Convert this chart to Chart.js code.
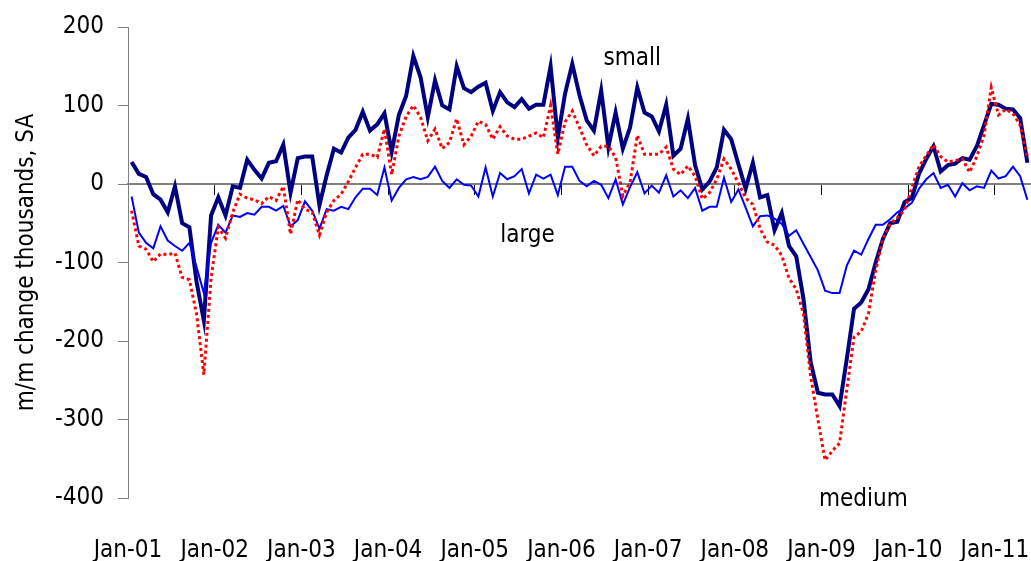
<!DOCTYPE html>
<html>
<head>
<meta charset="utf-8">
<script src="https://cdn.jsdelivr.net/npm/chart.js@4.4.0/dist/chart.umd.min.js"></script>
<style>
  body { margin: 0; background: #fff; }
</style>
</head>
<body>
<canvas id="myChart" width="1031" height="561"></canvas>
<script>
const FONT = "'Liberation Sans Narrow', 'Arial Narrow', 'DejaVu Sans Condensed', sans-serif";
const FSIZE = 24;

// monthly categories, Jan-01 .. May-11
const monthNames = ['Jan', 'Feb', 'Mar', 'Apr', 'May', 'Jun', 'Jul', 'Aug', 'Sep', 'Oct', 'Nov', 'Dec'];
const years = ['01', '02', '03', '04', '05', '06', '07', '08', '09', '10', '11'];
const months = [];
years.forEach(y => monthNames.forEach(m => months.push(m + '-' + y)));
months.length = 125;

// m/m change, thousands
const small = [
  28, 13, 9, -13, -20, -36, -3, -50, -55, -125, -174, -40,
  -17, -40, -3, -5, 31, 18, 7, 27, 29, 50, -11, 33,
  35, 35, -27, 11, 45, 40, 59, 69, 92, 68, 76, 90,
  41, 88, 112, 163, 136, 85, 132, 100, 95, 150, 122, 117,
  124, 129, 93, 117, 104, 98, 108, 96, 101, 101, 150, 59,
  115, 153, 113, 81, 68, 119, 47, 91, 45, 72, 123, 91,
  86, 67, 101, 36, 45, 83, 24, -7, 3, 21, 69, 57,
  25, -6, 27, -17, -14, -59, -37, -79, -92, -146, -227, -266,
  -268, -268, -283, -223, -159, -151, -134, -100, -70, -50, -48, -23,
  -18, 13, 32, 48, 16, 24, 26, 33, 31, 48, 75, 102,
  101, 96, 95, 84, 27
];
const medium = [
  -34, -79, -83, -99, -89, -90, -88, -119, -122, -166, -243, -120,
  -55, -69, -36, -13, -18, -20, -25, -16, -21, -3, -64, -20,
  -32, -36, -65, -36, -21, -13, 3, 21, 38, 38, 34, 70,
  12, 61, 86, 100, 85, 55, 70, 45, 53, 83, 50, 61,
  80, 76, 57, 73, 61, 57, 57, 61, 65, 59, 100, 38,
  79, 93, 72, 50, 36, 48, 48, 34, -15, 2, 62, 38,
  38, 38, 47, 19, 12, 23, 10, -19, -11, 6, 32, 19,
  1, -18, -26, -57, -74, -78, -91, -120, -134, -165, -245, -300,
  -352, -340, -330, -262, -195, -188, -165, -110, -70, -51, -43, -33,
  -5, 22, 36, 50, 35, 28, 30, 32, 15, 35, 62, 123,
  88, 95, 90, 75, 35
];
const large = [
  -16, -62, -75, -82, -54, -72, -79, -85, -75, -106, -139, -75,
  -52, -62, -40, -42, -37, -39, -29, -29, -34, -28, -54, -46,
  -22, -34, -57, -32, -34, -29, -32, -17, -6, -6, -14, 21,
  -21, -5, 6, 9, 6, 9, 22, 4, -5, 6, -1, -2,
  -16, 21, -16, 14, 6, 10, 19, -12, 12, 7, 12, -14,
  22, 22, 4, -3, 4, -1, -18, 6, -26, -4, 15, -12,
  -2, -11, 11, -16, -8, -18, -5, -34, -29, -29, 8, -23,
  -7, -30, -54, -41, -40, -44, -51, -66, -59, -76, -93, -110,
  -136, -139, -139, -104, -85, -90, -70, -52, -52, -45, -36, -31,
  -24, -6, 6, 14, -5, -1, -16, 1, -8, -3, -5, 17,
  7, 10, 22, 10, -20
];

// series names written inside the plot
const notes = [
  { text: 'small', at: 69.3, value: 159 },
  { text: 'large', at: 54.8, value: -66 },
  { text: 'medium', at: 101.3, value: -402 }
];

const notePlugin = {
  id: 'notes',
  afterDatasetsDraw(chart) {
    const c = chart.ctx;
    const xs = chart.scales.x, ys = chart.scales.y;
    c.save();
    c.font = FSIZE + 'px ' + FONT;
    c.fillStyle = '#000';
    c.textAlign = 'center';
    c.textBaseline = 'middle';
    notes.forEach(n => {
      c.fillText(n.text, xs.getPixelForValue(n.at), ys.getPixelForValue(n.value));
    });
    c.restore();
  }
};

const ctx = document.getElementById('myChart').getContext('2d');
const chart = new Chart(ctx, {
  type: 'line',
  data: {
    labels: months,
    datasets: [
      { label: 'medium', data: medium, borderColor: '#ff0000', borderWidth: 3, borderDash: [3, 3], borderCapStyle: 'butt', order: 0 },
      { label: 'large', data: large, borderColor: '#0000ff', borderWidth: 2, order: 1 },
      { label: 'small', data: small, borderColor: '#000080', borderWidth: 4, order: 2 }
    ]
  },
  options: {
    responsive: false,
    animation: false,
    layout: { padding: { top: 27, right: 0, bottom: 0, left: 0 } },
    elements: {
      point: { radius: 0 },
      line: { tension: 0, fill: false }
    },
    plugins: {
      legend: { display: false },
      tooltip: { enabled: false }
    },
    scales: {
      x: {
        type: 'category',
        position: 'bottom',
        offset: true,
        grid: { display: false, drawTicks: false },
        border: { display: false },
        ticks: {
          autoSkip: false,
          maxRotation: 0,
          padding: 38,
          labelOffset: -3.6,
          color: '#000',
          font: { family: FONT, size: FSIZE },
          callback: function(v) {
            const l = this.getLabelForValue(v);
            return l.startsWith('Jan') ? l : '';
          }
        },
        afterFit: s => { s.height = 63; s.paddingLeft = 0; s.paddingRight = 0; }
      },
      // zero line with the yearly tick marks
      xz: {
        type: 'category',
        position: { y: 0 },
        offset: true,
        grid: {
          offset: true,
          drawOnChartArea: false,
          drawTicks: true,
          tickLength: 10,
          lineWidth: 1,
          color: c => (c.index > 0 && c.index % 12 === 0) ? '#000' : 'rgba(0,0,0,0)'
        },
        border: { display: true, color: '#808080', width: 2 },
        ticks: { display: false },
        afterFit: s => { s.paddingLeft = 0; s.paddingRight = 0; }
      },
      y: {
        min: -400,
        max: 200,
        ticks: {
          stepSize: 100,
          padding: 14,
          color: '#000',
          font: { family: FONT, size: FSIZE }
        },
        grid: { drawOnChartArea: false, tickLength: 10, color: '#808080' },
        border: { display: true, color: '#808080', width: 1 },
        title: {
          display: true,
          text: 'm/m change thousands, SA',
          color: '#000',
          font: { family: FONT, size: FSIZE },
          padding: { top: 12, bottom: 0 }
        },
        afterFit: s => { s.width = 128; s.paddingTop = 0; s.paddingBottom = 0; }
      }
    }
  },
  plugins: [notePlugin]
});
</script>
</body>
</html>
